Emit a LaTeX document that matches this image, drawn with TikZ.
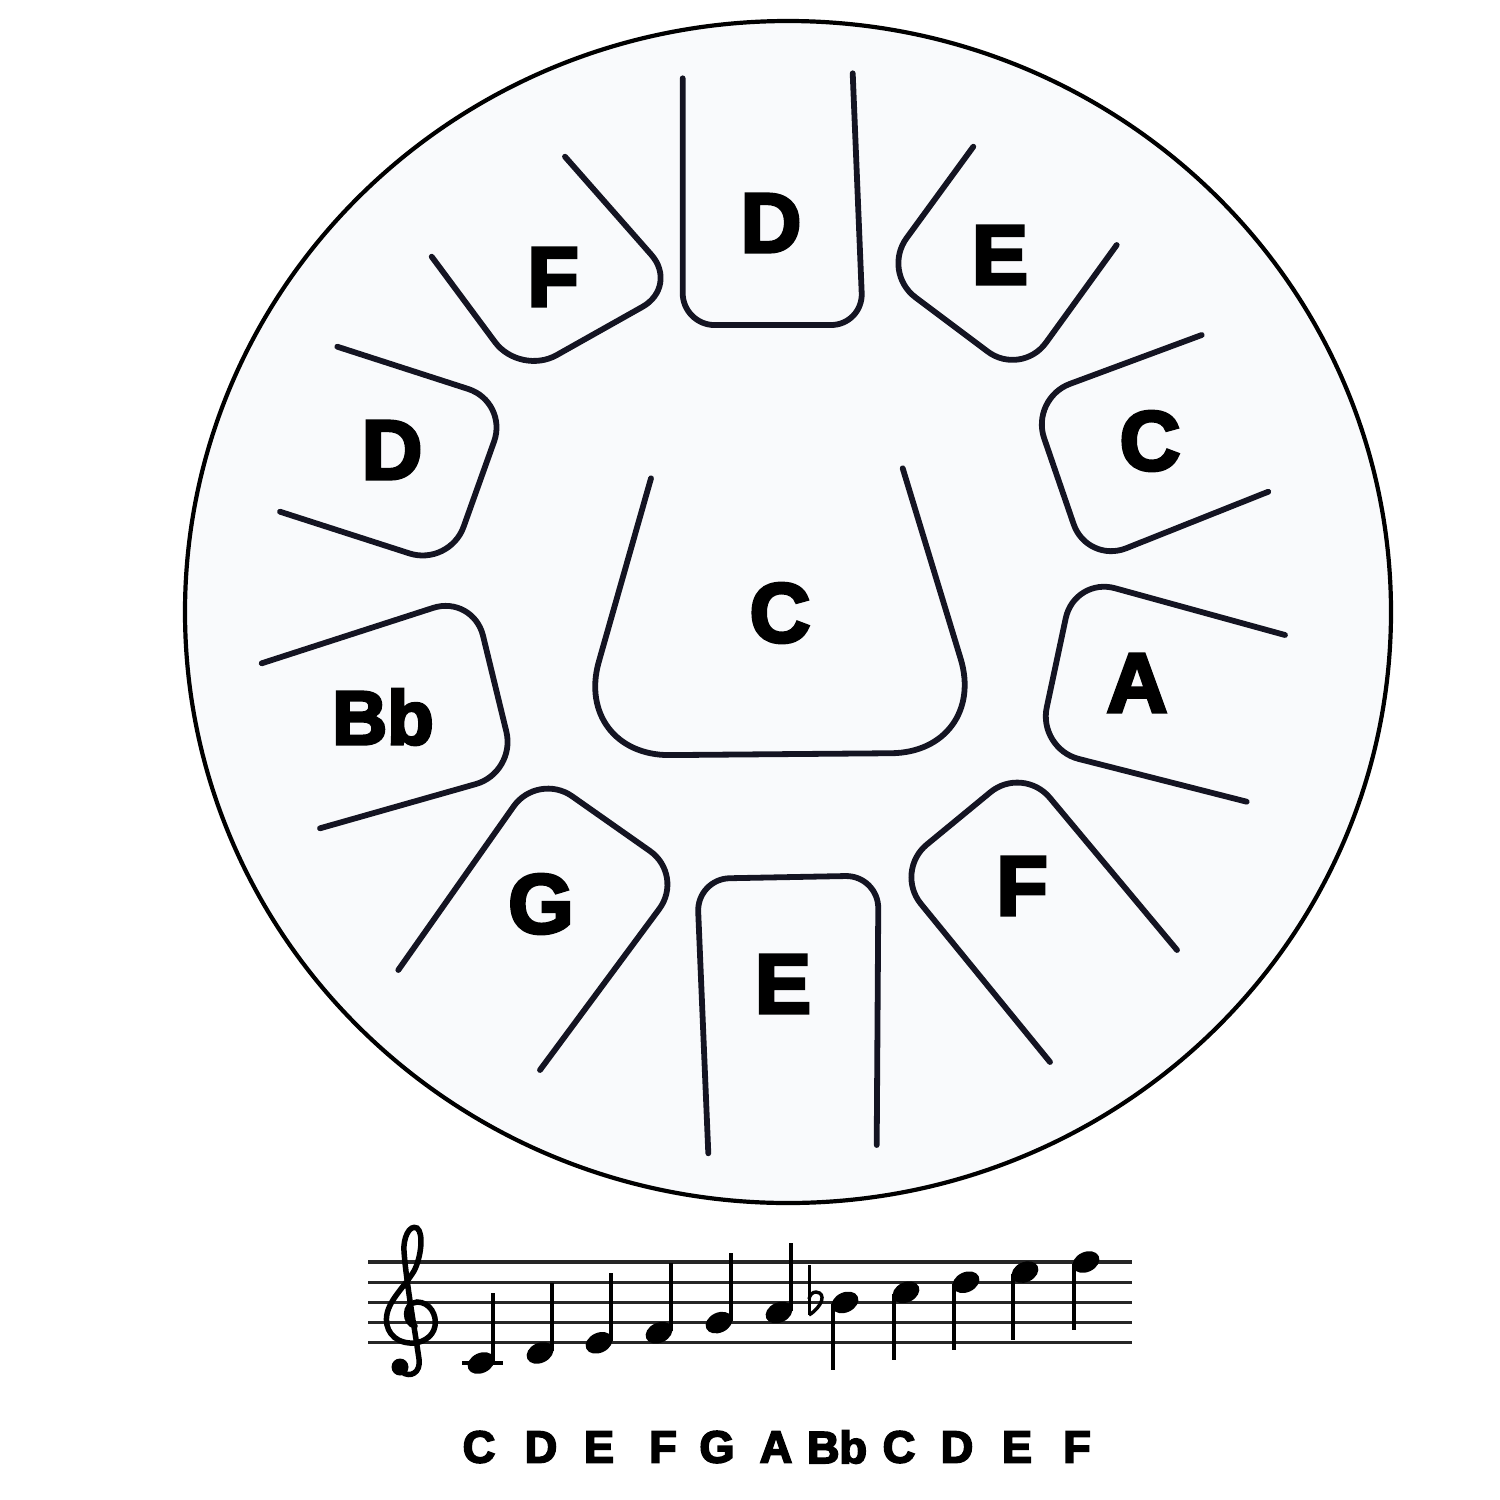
\documentclass[tikz,border=0pt]{standalone}
\usepackage{fontspec}
\newfontfamily\heavyfont[FakeBold=4]{Liberation Sans Bold}
\definecolor{ink}{RGB}{20,20,34}
\definecolor{drumface}{RGB}{249,250,252}
\tikzset{
  tongueline/.style={draw=ink, line width=5.8pt, line cap=round, line join=round},
  drumletter/.style={font=\heavyfont\fontsize{84}{84}\selectfont, inner sep=0pt, anchor=center},
  scalelabel/.style={font=\heavyfont\fontsize{45}{45}\selectfont, inner sep=0pt, anchor=center},
  staffline/.style={draw=black!85, line width=3.2pt},
  stemline/.style={draw=black, line width=3.2pt},
  clefline/.style={draw=black, line width=5.5pt, line cap=round},
}
% #1 name, #2 outer end 1, #3 point on side 1, #4 #5 points on closed end, #6 point on side 2, #7 outer end 2, #8 radius
\newcommand{\drumtongue}[8]{%
  \coordinate (#1o1) at (#2);
  \coordinate (#1i1) at (#3);
  \coordinate (#1c1) at (#4);
  \coordinate (#1c2) at (#5);
  \coordinate (#1i2) at (#6);
  \coordinate (#1o2) at (#7);
  \coordinate (#1k1) at (intersection of #1o1--#1i1 and #1c1--#1c2);
  \coordinate (#1k2) at (intersection of #1c1--#1c2 and #1i2--#1o2);
  \draw[tongueline, rounded corners=#8] (#1o1) -- (#1k1) -- (#1k2) -- (#1o2);
}
\newcommand{\noteup}[2]{%
  \fill[black, rotate around={25:(#1,#2)}] (#1,#2) ellipse [x radius=14pt, y radius=10pt];
  \draw[stemline] ({#1+12},{#2-2}) -- ({#1+12},{#2-70});
}
\newcommand{\notedown}[2]{%
  \fill[black, rotate around={25:(#1,#2)}] (#1,#2) ellipse [x radius=14pt, y radius=10pt];
  \draw[stemline] ({#1-12},{#2+2}) -- ({#1-12},{#2+68});
}
\begin{document}
\begin{tikzpicture}[x=1pt,y=-1pt]
\useasboundingbox (0,0) rectangle (1500,1500);
\fill[white] (0,0) rectangle (1500,1500);

% drum body
\coordinate (ctr) at (788,612);
\path[fill=drumface, draw=black, line width=4.2pt] (ctr) ellipse [x radius=603pt, y radius=591pt];

% outer tongues
\drumtongue{tD}{682.7,78.3}{682.7,293.3}{710,325}{833.3,325}{861.7,293.3}{852.7,73.3}{32pt}
\drumtongue{tE}{973.3,146.7}{910,233.3}{910,293.3}{1003.3,363.3}{1033.3,360}{1116.7,245}{42pt}
\drumtongue{rC}{1201.7,335}{1053.3,390}{1036.7,416.7}{1076.7,533.3}{1113.3,553.3}{1268.3,491.7}{42pt}
\drumtongue{rA}{1285,635}{1103.3,585}{1066.7,613.3}{1043.3,723.3}{1070,756.7}{1246.7,801.7}{42pt}
\drumtongue{rF}{1177,950}{1060,810}{1005,780}{920,850}{912,893}{1050,1062}{42pt}
\drumtongue{bE}{708.3,1153.3}{698.3,913.3}{726.7,878.3}{850,876}{878.3,910}{876.7,1145}{33pt}
\drumtongue{bG}{398.3,970}{513.3,806.7}{563.3,790}{653.3,853.3}{663.3,903.3}{540,1070}{42pt}
\drumtongue{lB}{261.7,663.3}{436.7,606.7}{480,623.3}{510,746.7}{490,780}{320,828.3}{42pt}
\drumtongue{lD}{337.3,346.7}{476.7,391.7}{501.7,420}{460,536.7}{430,560}{280,511.7}{42pt}
\drumtongue{lF}{431.7,256.7}{503.3,353.3}{530,370}{636.7,310}{650,253.3}{565,156.7}{42pt}

% central tongue
\coordinate (cC1) at (651,478.3);
\coordinate (cC2) at (605,640);
\coordinate (cC3) at (680,755);
\coordinate (cC4) at (880,753.3);
\coordinate (cC5) at (960,656.7);
\coordinate (cC6) at (902.7,468.3);
\coordinate (cK1) at (intersection of cC1--cC2 and cC3--cC4);
\coordinate (cK2) at (intersection of cC3--cC4 and cC5--cC6);
\draw[tongueline, rounded corners=98pt] (cC1) -- (cK1) -- (cK2) -- (cC6);

% tongue letters
\node[drumletter] (lD1) at (771,223) {D};
\node[drumletter] (lE1) at (1000,255) {E};
\node[drumletter] (lC1) at (1150,441) {C};
\node[drumletter] (lA) at (1137,683) {A};
\node[drumletter] (lF2) at (1022,886) {F};
\node[drumletter] (lE2) at (783,984) {E};
\node[drumletter] (lG) at (541,904) {G};
\node[drumletter, font=\heavyfont\fontsize{76}{76}\selectfont] (lBb) at (383,717) {Bb};
\node[drumletter] (lD2) at (392,450) {D};
\node[drumletter] (lF1) at (553,277) {F};
\node[drumletter] (lC0) at (780,613) {C};

% staff
\foreach \k in {0,...,4} {
  \draw[staffline] (368,{1262+20.2*\k}) -- (1132,{1262+20.2*\k});
}
% treble clef
\begin{scope}[shift={(412,1321)}]
\draw[clefline] (3,5) .. controls (-8,3) and (-9,-18) .. (5,-19)
  .. controls (18,-19) and (25,-6) .. (23,5)
  .. controls (21,17) and (8,23) .. (-2,22)
  .. controls (-19,21) and (-28,8) .. (-25,-7)
  .. controls (-22,-22) and (-7,-35) .. (2,-50)
  .. controls (9,-63) and (12,-88) .. (5,-93)
  .. controls (-3,-97) and (-9,-82) .. (-8,-70)
  .. controls (-6,-40) and (3,10) .. (7,38)
  .. controls (9,52) and (-2,57) .. (-10,51);
\fill[black] (-12,46) circle (8.5pt);
\end{scope}

% ledger line for low C
\draw[stemline] (462,1363) -- (503,1363);
% notes
\noteup{481}{1363}
\noteup{540}{1352.9}
\noteup{599}{1342.8}
\noteup{659}{1332.7}
\noteup{719}{1322.6}
\noteup{779}{1312.5}
\notedown{845}{1302.4}
\notedown{906}{1292.3}
\notedown{966}{1282.2}
\notedown{1025}{1272.1}
\notedown{1086}{1262}
% flat sign
\draw[black, line width=3pt] (809,1265) -- (809,1315);
\draw[black, line width=3.4pt] (809,1315) .. controls (822,1307) and (827,1293) .. (816,1292) .. controls (812,1292) and (810,1295) .. (809,1299);

% scale labels
\node[scalelabel] (sC1) at (479,1447) {C};
\node[scalelabel] (sD1) at (541,1447) {D};
\node[scalelabel] (sE1) at (599,1447) {E};
\node[scalelabel] (sF1) at (663,1447) {F};
\node[scalelabel] (sG) at (717,1447) {G};
\node[scalelabel] (sA) at (776,1447) {A};
\node[scalelabel] (sBb) at (837,1447) {Bb};
\node[scalelabel] (sC2) at (899,1447) {C};
\node[scalelabel] (sD2) at (957,1447) {D};
\node[scalelabel] (sE2) at (1017,1447) {E};
\node[scalelabel] (sF2) at (1077,1447) {F};
\end{tikzpicture}
\end{document}
